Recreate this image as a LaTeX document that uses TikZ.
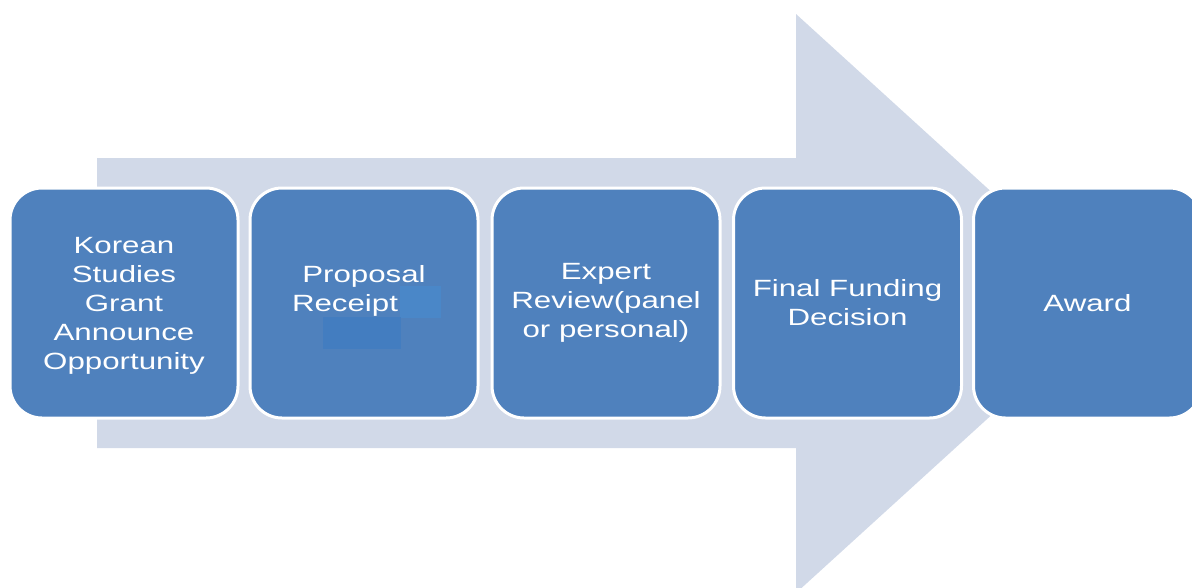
\documentclass[tikz,border=0pt]{standalone}
\usepackage{fontspec}
\setmainfont{Liberation Sans}[FakeStretch=1.33]
\definecolor{arrowfill}{HTML}{D1D9E8}
\definecolor{boxfill}{HTML}{4F81BD}
\definecolor{patchA}{HTML}{4A87C8}
\definecolor{patchB}{HTML}{437DC0}
\begin{document}
\begin{tikzpicture}[x=1pt,y=-1pt,
  steptext/.style={inner sep=0pt, text=white,
    font=\fontsize{23.5}{29}\selectfont, align=center},
  stepbox/.style={steptext, draw=white, line width=3pt, fill=boxfill, rounded corners=32pt,
    minimum width=228pt, minimum height=230pt}]
\useasboundingbox (0,0) rectangle (1192,587);
\clip (0,0) rectangle (1192,587);
\fill[arrowfill] (97,158) -- (796,158) -- (796,14) -- (1114,303.5) -- (796,593)
  -- (796,448) -- (97,448) -- cycle;
\node[stepbox] (b1) at (124,303) {};
\node[steptext, yshift=-3pt] (t1) at (b1.center) {Korean\\Studies\\Grant\\Announce\\Opportunity};
\node[stepbox] (b2) at (364,303) {Proposal\\Receipt\rule{38pt}{0pt}\\\mbox{}};
\node[stepbox] (b3) at (606,303) {Expert\\Review(panel\\or personal)};
\node[stepbox] (b4) at (847.5,303) {Final Funding\\Decision};
\node[stepbox] (b5) at (1087.5,303) {Award};
\fill[patchA] (400,286) rectangle (441,318);
\fill[patchB] (323,317) rectangle (401,349);
\end{tikzpicture}
\end{document}
